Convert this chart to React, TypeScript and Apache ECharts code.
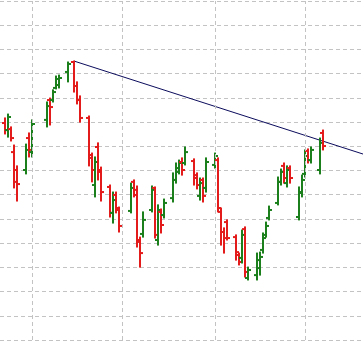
import React, { useEffect, useRef } from "react";
import * as echarts from "echarts";

// Day index of each bar (calendar days, weekends / holidays missing)
const days = [
  21, 22, 23, 24, 25, 28, 29, 30, 35, 36, 37, 38, 39, 42, 44, 45, 46,
  49, 50, 51, 52, 53, 56, 57, 58, 59, 63, 64, 65, 66, 67, 70, 71, 72, 73, 74,
  77, 78, 79, 80, 81, 84, 85, 86, 87, 88, 91, 92, 93, 94, 95, 98, 99, 100, 101, 102,
  105, 106, 107, 108, 109, 112, 113, 114, 115, 116, 119, 120, 121, 122, 123, 126, 127,
];
const opens = [
  89.6, 86.7, 87.1, 77.6, 70.2, 70.2, 83.4, 77.6, 90.9, 99.1, 99.1, 104.1, 105.3, 110.7, 114.8, 104.9, 99.1,
  91.7, 76.4, 64.0, 79.7, 69.4, 63.2, 52.5, 59.9, 53.7, 53.3, 65.3, 62.0, 40.5, 43.8, 53.7, 62.8, 41.3, 52.9, 51.6,
  58.6, 66.1, 69.4, 73.5, 73.1, 73.9, 68.1, 59.5, 66.1, 62.8, 72.3, 74.3, 52.9, 44.6, 48.7, 42.5, 35.1, 33.9, 45.8, 25.6,
  26.8, 29.7, 37.2, 43.4, 50.4, 56.6, 65.3, 71.9, 64.8, 71.0, 50.8, 60.7, 68.6, 78.1, 74.3, 70.2, 85.5,
];
const highs = [
  91.7, 93.3, 88.0, 80.5, 71.9, 80.9, 85.5, 90.9, 98.3, 99.9, 103.3, 109.0, 109.4, 114.8, 115.2, 106.6, 100.8,
  92.5, 77.2, 75.6, 81.4, 71.4, 64.0, 61.1, 61.1, 54.9, 64.8, 66.1, 63.6, 42.5, 52.9, 63.6, 63.2, 55.8, 54.1, 58.2,
  69.0, 73.1, 74.3, 75.2, 79.7, 74.8, 69.0, 66.9, 66.9, 75.2, 77.2, 75.2, 54.5, 46.3, 49.6, 43.4, 35.9, 45.4, 46.7, 30.1,
  35.9, 36.3, 44.2, 48.7, 55.3, 67.3, 70.6, 73.1, 71.9, 71.9, 63.2, 68.1, 78.5, 78.9, 79.7, 83.4, 86.7,
];
const lows = [
  85.1, 83.8, 82.2, 62.8, 57.4, 68.6, 75.6, 75.6, 88.0, 88.8, 98.3, 103.7, 104.1, 106.6, 102.4, 97.5, 90.0,
  71.9, 65.3, 59.1, 66.1, 57.4, 50.8, 48.3, 52.5, 44.6, 52.5, 59.1, 38.4, 30.1, 42.5, 52.9, 42.1, 39.2, 44.2, 50.4,
  57.0, 64.8, 68.6, 68.1, 72.3, 64.0, 62.4, 57.8, 57.0, 61.1, 71.0, 52.9, 39.2, 35.9, 41.3, 33.0, 31.0, 31.8, 26.0, 24.8,
  24.8, 26.8, 35.9, 42.5, 49.6, 55.8, 64.0, 64.8, 63.2, 64.8, 49.6, 59.1, 67.3, 73.1, 73.1, 68.6, 78.5,
];
const closes = [
  86.7, 92.1, 83.4, 65.3, 64.4, 78.5, 78.5, 89.2, 96.6, 96.2, 102.4, 107.8, 108.2, 114.0, 104.9, 99.1, 91.7,
  75.2, 70.2, 73.5, 70.2, 61.1, 52.5, 57.8, 54.5, 47.1, 62.8, 59.9, 41.3, 35.9, 49.6, 62.0, 43.4, 53.7, 47.5, 56.6,
  66.1, 71.0, 73.1, 70.2, 77.6, 66.9, 64.0, 64.8, 59.5, 73.5, 76.0, 54.5, 44.6, 42.1, 42.1, 36.3, 32.2, 43.4, 28.1, 28.9,
  33.0, 34.3, 42.1, 47.1, 53.7, 65.3, 69.4, 66.9, 70.2, 66.9, 61.1, 66.1, 76.0, 74.3, 78.5, 81.4, 80.1,
];

// Month boundaries (day index) used for the vertical grid lines
const monthStarts = [30, 60, 91, 121];
// Resistance trend line: from the peak high to the right edge
const trendLine = [
  [44, 115.2],
  [140.33, 76.8],
];
const xMin = 19.33;
const xMax = 140.33;
const yMin = 0;
const yMax = 140;
const yInterval = 10;

const UP = "#1b7f1b";
const DOWN = "#e31b1b";
const GRID = "#c3c3c3";

export default function App() {
  const ref = useRef<HTMLDivElement>(null);
  useEffect(() => {
    if (!ref.current) return;
    const chart = echarts.init(ref.current, null, { renderer: "svg" });
    const ohlc = days.map((d, i) => [d, opens[i], highs[i], lows[i], closes[i]]);
    chart.setOption({
      animation: false,
      backgroundColor: "#ffffff",
      grid: { left: 0, right: 0, top: 1, bottom: 5, containLabel: false },
      xAxis: {
        type: "value",
        min: xMin,
        max: xMax,
        axisLine: { show: false },
        axisTick: { show: false },
        axisLabel: { show: false },
        splitLine: { show: false },
      },
      yAxis: {
        type: "value",
        min: yMin,
        max: yMax,
        interval: yInterval,
        axisLine: { show: false },
        axisTick: { show: false },
        axisLabel: { show: false },
        splitLine: { show: true, lineStyle: { color: GRID, type: [4, 3], width: 1 } },
      },
      series: [
        {
          type: "line",
          data: trendLine,
          symbol: "none",
          silent: true,
          z: 1,
          lineStyle: { color: "#0b0b5c", width: 1 },
          markLine: {
            silent: true,
            symbol: ["none", "none"],
            label: { show: false },
            emphasis: { disabled: true },
            lineStyle: { color: GRID, type: [4, 3], width: 1 },
            data: monthStarts.map((m) => ({ xAxis: m })),
          },
        },
        {
          type: "custom",
          z: 2,
          silent: true,
          data: ohlc,
          encode: { x: 0, y: [1, 2, 3, 4] },
          renderItem: (params: any, api: any) => {
            const d = api.value(0);
            const o = api.value(1);
            const h = api.value(2);
            const l = api.value(3);
            const c = api.value(4);
            const pH = api.coord([d, h]);
            const pL = api.coord([d, l]);
            const pO = api.coord([d, o]);
            const pC = api.coord([d, c]);
            const color = c >= o ? UP : DOWN;
            const style = { stroke: color, lineWidth: 2, lineCap: "butt" };
            return {
              type: "group",
              children: [
                { type: "line", shape: { x1: pH[0], y1: pH[1] - 0.5, x2: pL[0], y2: pL[1] + 0.5 }, style },
                { type: "line", shape: { x1: pO[0] - 3, y1: pO[1], x2: pO[0], y2: pO[1] }, style },
                { type: "line", shape: { x1: pC[0], y1: pC[1], x2: pC[0] + 3, y2: pC[1] }, style },
              ],
            };
          },
        },
      ],
    });
    return () => chart.dispose();
  }, []);
  return (
    <div
      ref={ref}
      style={{ position: "fixed", left: 0, top: 0, width: 363, height: 345 }}
    />
  );
}
